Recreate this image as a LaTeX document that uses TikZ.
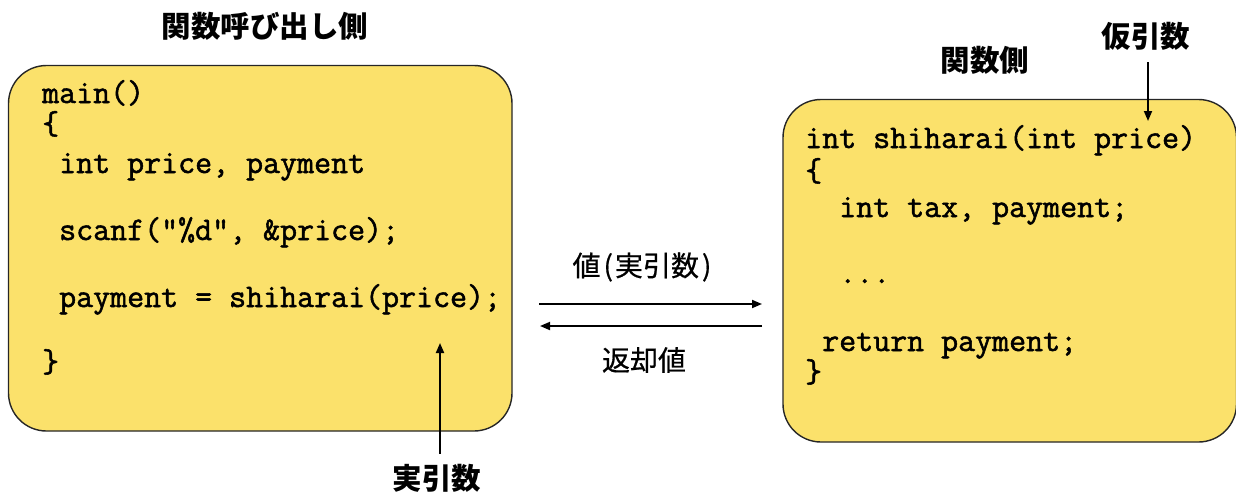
\documentclass[tikz,border=0pt]{standalone}
\usepackage{fontspec}
\usetikzlibrary{arrows.meta}
\newfontfamily\codefont{Latin Modern Mono}[FakeBold=1.6]
\newfontfamily\cjk{Noto Sans CJK JP}
\newfontfamily\cjkmid{Noto Sans CJK JP}[FakeBold=0.6]
\definecolor{boxyellow}{HTML}{FBE16B}
\tikzset{
  codebox/.style={draw=black!85, line width=1.4pt, fill=boxyellow, rounded corners=38pt},
  codeline/.style={anchor=base west, inner sep=0pt, font=\codefont\bfseries\fontsize{33}{35}\selectfont},
  titlelbl/.style={inner sep=0pt, font=\cjk\bfseries\fontsize{29.5}{31}\selectfont},
  midlbl/.style={inner sep=0pt, font=\cjkmid\fontsize{28}{30}\selectfont},
  conn/.style={line width=1.8pt, -{Triangle[length=10pt,width=8pt]}},
}
\begin{document}
\begin{tikzpicture}[x=1pt,y=-1pt]
\useasboundingbox (0,0) rectangle (1236,496);
\clip (0,0) rectangle (1236,496);
% boxes
\draw[codebox] (8.5,65.5) rectangle (512,431);
\draw[codebox] (783,99.5) rectangle (1236.5,442);
% left code
\node[codeline] (l1) at (42,103) {main()};
\node[codeline] (l2) at (42,134) {\{};
\node[codeline] (l3) at (59,173) {int price, payment};
\node[codeline] (l4) at (59,240) {scanf("\%d", \&price);};
\node[codeline] (l5) at (59,307) {payment = shiharai(price);};
\node[codeline] (l6) at (42,372) {\}};
% right code
\node[codeline] (r1) at (805,148) {int shiharai(int price)};
\node[codeline] (r2) at (805,181) {\{};
\node[codeline] (r3) at (839,217) {int tax, payment;};
\node[codeline] (r4) at (839,283) {...};
\node[codeline] (r5) at (822,351) {return payment;};
\node[codeline] (r6) at (805,382) {\}};
% labels
\node[titlelbl] (tcall) at (265,26) {関数呼び出し側};
\node[titlelbl] (tfunc) at (985,60) {関数側};
\node[titlelbl] (tkari) at (1146,36) {仮引数};
\node[titlelbl] (tjitsu) at (437,478) {実引数};
\node[midlbl] (tval) at (642,267) {値\kern3pt(\kern2pt実引数\kern3pt)};
\node[midlbl] (tret) at (644,360) {返却値};
% arrow endpoints
\coordinate (kariTip) at (1148,121);
\coordinate (jitsuTip) at (440,343);
\coordinate (aL1) at (539,304);
\coordinate (aR1) at (762,304);
\coordinate (aR2) at (762,326);
\coordinate (aL2) at (540,326);
\draw[conn] (tkari.south -| kariTip) ++(0,12) -- (kariTip);
\draw[conn] (tjitsu.north -| jitsuTip) ++(0,-10) -- (jitsuTip);
\draw[conn] (aL1) -- (aR1);
\draw[conn] (aR2) -- (aL2);
\end{tikzpicture}
\end{document}
